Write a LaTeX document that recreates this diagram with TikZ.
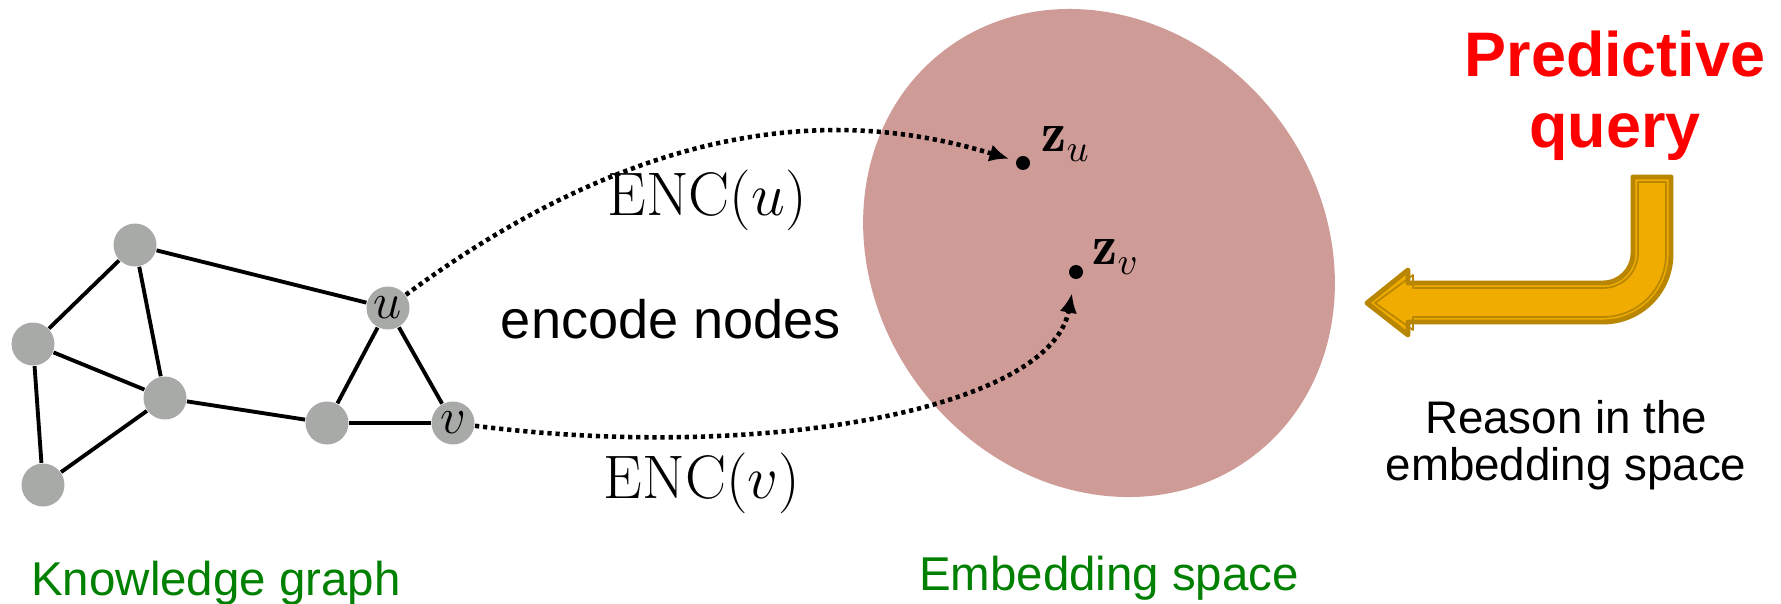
\documentclass[tikz,border=0pt]{standalone}
\usepackage{fontspec}
\newfontfamily\arialfont{Liberation Sans}
\usetikzlibrary{arrows.meta}

\definecolor{nodegray}{RGB}{168,170,168}
\definecolor{embedpink}{RGB}{206,155,151}
\definecolor{kggreen}{RGB}{0,128,0}
\definecolor{arrowgold}{RGB}{240,172,0}
\definecolor{arrowrim}{RGB}{184,134,0}

\tikzset{
  gnode/.style={circle, fill=nodegray, minimum size=0.43cm, inner sep=0pt, font=\fontsize{14}{14}\selectfont},
  gedge/.style={line width=1.1pt},
  encarrow/.style={line width=1.3pt, dash pattern=on 1.2pt off 1.1pt, -{Latex[length=5.5pt,width=5pt]}},
  zdot/.style={circle, fill=black, minimum size=0.14cm, inner sep=0pt},
  greenlabel/.style={text=kggreen, anchor=base, font=\arialfont\fontsize{13.5}{16}\selectfont},
}

\begin{document}
\begin{tikzpicture}[]
    \useasboundingbox (0,0) rectangle (17.81,6.03);

    % embedding space
    \fill[embedpink, rotate around={-52.6:(10.99,3.50)}] (10.99,3.50) ellipse (2.55 and 2.24);

    % knowledge graph
    \node[gnode] (n1) at (1.35,3.58) {};
    \node[gnode] (n2) at (0.33,2.59) {};
    \node[gnode] (n3) at (1.65,2.05) {};
    \node[gnode] (n4) at (0.43,1.18) {};
    \node[gnode] (n5) at (3.27,1.80) {};
    \node[gnode] (u) at (3.88,2.95) {$u$};
    \node[gnode] (v) at (4.53,1.80) {$v$};
    \draw[gedge] (n1) -- (n2) (n1) -- (n3) (n1) -- (u) (n2) -- (n3) (n2) -- (n4)
                 (n3) -- (n4) (n3) -- (n5) (n5) -- (u) (n5) -- (v) (u) -- (v);

    % embeddings
    \node[zdot] (zu) at (10.23,4.40) {};
    \node[zdot] (zv) at (10.76,3.31) {};
    \node[anchor=base west, inner sep=0pt, font=\fontsize{16}{18}\selectfont] (zulabel) at (10.41,4.51) {$\mathbf{z}_u$};
    \node[anchor=base west, inner sep=0pt, font=\fontsize{16}{18}\selectfont] (zvlabel) at (10.92,3.38) {$\mathbf{z}_v$};

    \draw[encarrow, shorten >=2pt] (u) .. controls (6.80,5.11) and (8.80,4.83) .. (zu);
    \draw[encarrow, shorten >=4pt] (v) .. controls (7.60,1.41) and (10.50,1.93) .. (zv);
    \node[font=\fontsize{17.5}{20}\selectfont] (encu) at (7.07,4.03) {$\mathrm{ENC}(u)$};
    \node[font=\fontsize{17.5}{20}\selectfont] (encv) at (7.02,1.20) {$\mathrm{ENC}(v)$};
    \node[anchor=base, font=\arialfont\fontsize{15.4}{18}\selectfont] (encode) at (6.71,2.64) {encode nodes};

    % captions
    \node[greenlabel] (kg) at (2.16,0.08) {Knowledge graph};
    \node[greenlabel] (es) at (11.09,0.13) {Embedding space};

    % predictive query
    \node[anchor=base, text=red, font=\arialfont\bfseries\fontsize{17.9}{20}\selectfont] (pred) at (16.15,5.26) {Predictive};
    \node[anchor=base, text=red, font=\arialfont\bfseries\fontsize{17.9}{20}\selectfont] (query) at (16.15,4.55) {query};
    \node[anchor=base, font=\arialfont\fontsize{13}{15}\selectfont] (reason) at (15.66,1.70) {Reason in the};
    \node[anchor=base, font=\arialfont\fontsize{13}{15}\selectfont] (reason2) at (15.66,1.23) {embedding space};

    \draw[fill=arrowgold, draw=arrowrim, line width=1.4pt, line join=round]
        (16.33,4.26) -- (16.71,4.26) -- (16.71,3.49) arc(0:-90:0.68) -- (14.08,2.81) -- (14.08,2.68)
        -- (13.67,3.00) -- (14.08,3.33) -- (14.08,3.20) -- (16.03,3.20) arc(270:360:0.30) -- cycle;
    \draw[arrowrim, line width=0.5pt, line join=round]
        (16.38,4.21) -- (16.66,4.21) -- (16.66,3.49) arc(0:-90:0.63) -- (14.13,2.86) -- (14.13,2.73)
        -- (13.75,3.00) -- (14.13,3.28) -- (14.13,3.15) -- (16.03,3.15) arc(270:360:0.35) -- cycle;
\end{tikzpicture}
\end{document}
